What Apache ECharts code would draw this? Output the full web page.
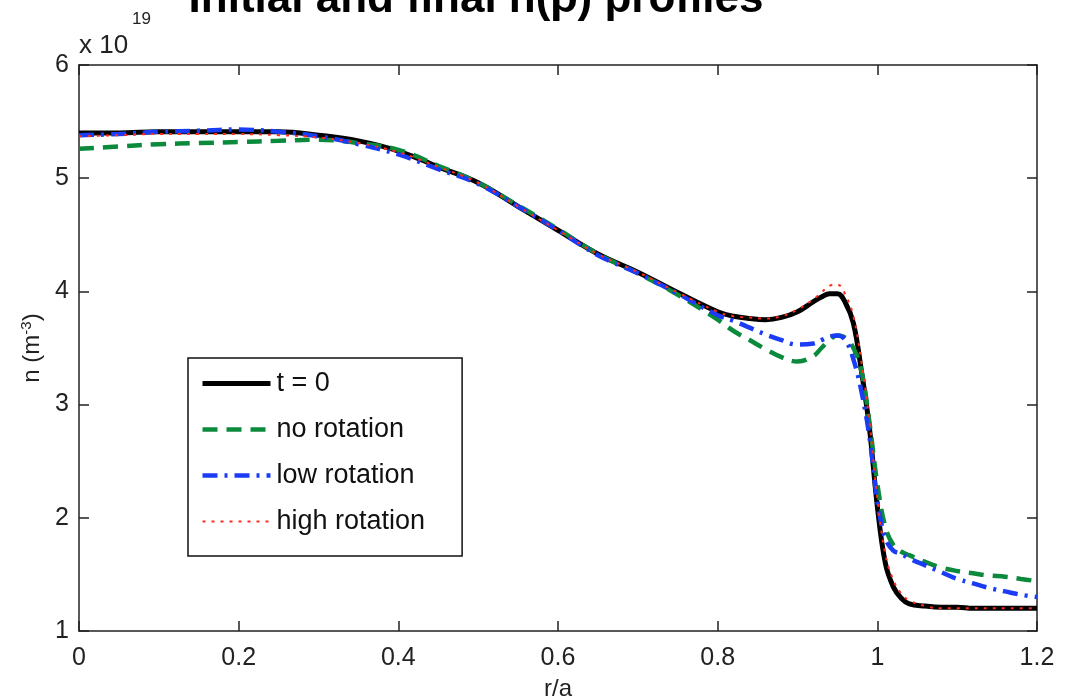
<!DOCTYPE html>
<html>
<head>
<meta charset="utf-8">
<script src="https://cdn.jsdelivr.net/npm/echarts@6/dist/echarts.min.js"></script>
<style>
html,body{margin:0;padding:0;background:#fff;}
#chart{width:1067px;height:700px;}
</style>
</head>
<body>
<div id="chart"></div>
<script>
// r/a sample positions
const rVals = [0, 0.05, 0.1, 0.15, 0.2, 0.25, 0.3, 0.35, 0.4, 0.45, 0.5, 0.55, 0.6, 0.65, 0.7, 0.75, 0.8, 0.82, 0.84, 0.86, 0.88, 0.9, 0.92, 0.93, 0.94, 0.95, 0.96, 0.97, 0.98, 0.99, 1.0, 1.01, 1.02, 1.03, 1.04, 1.06, 1.08, 1.1, 1.12, 1.14, 1.16, 1.18, 1.2];
// density (x 10^19 m^-3)
const t0 = [5.40, 5.40, 5.41, 5.41, 5.41, 5.41, 5.38, 5.33, 5.24, 5.10, 4.96, 4.75, 4.54, 4.33, 4.17, 3.99, 3.82, 3.78, 3.76, 3.75, 3.77, 3.82, 3.91, 3.95, 3.98, 3.98, 3.90, 3.72, 3.30, 2.80, 2.10, 1.60, 1.39, 1.29, 1.24, 1.22, 1.21, 1.21, 1.20, 1.20, 1.20, 1.20, 1.20];
const noRot = [5.26, 5.28, 5.30, 5.31, 5.32, 5.33, 5.34, 5.31, 5.25, 5.11, 4.96, 4.76, 4.55, 4.33, 4.16, 3.97, 3.75, 3.65, 3.57, 3.49, 3.42, 3.38, 3.43, 3.50, 3.57, 3.61, 3.59, 3.50, 3.30, 2.85, 2.30, 1.92, 1.76, 1.70, 1.67, 1.61, 1.56, 1.53, 1.51, 1.49, 1.48, 1.46, 1.44];
const lowRot = [5.38, 5.39, 5.41, 5.42, 5.43, 5.41, 5.37, 5.30, 5.21, 5.08, 4.95, 4.75, 4.54, 4.32, 4.16, 3.98, 3.79, 3.74, 3.68, 3.62, 3.57, 3.53, 3.54, 3.57, 3.60, 3.61, 3.57, 3.40, 3.12, 2.72, 2.15, 1.82, 1.71, 1.68, 1.64, 1.58, 1.52, 1.46, 1.42, 1.38, 1.35, 1.32, 1.30];
const highRot = [5.37, 5.38, 5.39, 5.39, 5.39, 5.38, 5.36, 5.31, 5.23, 5.10, 4.96, 4.75, 4.54, 4.33, 4.17, 3.99, 3.82, 3.78, 3.77, 3.76, 3.78, 3.84, 3.93, 3.99, 4.05, 4.06, 3.97, 3.78, 3.38, 2.86, 2.17, 1.68, 1.45, 1.33, 1.27, 1.22, 1.20, 1.20, 1.20, 1.20, 1.20, 1.20, 1.20];
const seriesNames = ['t = 0', 'no rotation', 'low rotation', 'high rotation'];
const xTicks = [0, 0.2, 0.4, 0.6, 0.8, 1, 1.2];
const yTicks = [1, 2, 3, 4, 5, 6];

function pairs(vals) { return rVals.map((r, i) => [r, vals[i]]); }

const FONT = '"Liberation Sans", Arial, sans-serif';
const axisCol = '#222';
const colors = ['#000000', '#0b8a3c', '#1a3cf5', '#ff2a1a'];
const widths = [5, 4.5, 4.5, 2];
const dashes = ['solid', [15, 9], [15, 7, 3, 7], [3, 6]];

const chart = echarts.init(document.getElementById('chart'), null, {renderer: 'canvas'});

const baseX = {
  type: 'value', min: xTicks[0], max: xTicks[xTicks.length - 1], interval: 0.2,
  axisLine: {show: true, onZero: false, lineStyle: {color: axisCol, width: 1.5}},
  axisTick: {show: true, inside: true, length: 10, lineStyle: {color: axisCol, width: 1.5}},
  splitLine: {show: false}
};
const baseY = {
  type: 'value', min: yTicks[0], max: yTicks[yTicks.length - 1], interval: 1,
  axisLine: {show: true, onZero: false, lineStyle: {color: axisCol, width: 1.5}},
  axisTick: {show: true, inside: true, length: 10, lineStyle: {color: axisCol, width: 1.5}},
  splitLine: {show: false}
};

const option = {
  backgroundColor: '#fff',
  animation: false,
  title: {
    text: 'Initial and final n(\u03c1) profiles',
    left: 471, top: -27, textAlign: 'center',
    textStyle: {fontFamily: FONT, fontWeight: 'bold', fontSize: 44, color: '#000'}
  },
  grid: {left: 79, right: 30, top: 65, bottom: 69, containLabel: false, outerBoundsMode: 'none'},
  xAxis: [
    Object.assign({}, baseX, {
      position: 'bottom',
      name: 'r/a', nameLocation: 'middle', nameGap: 46,
      nameTextStyle: {fontFamily: FONT, fontSize: 24, color: '#222'},
      axisLabel: {show: true, margin: 15, fontFamily: FONT, fontSize: 25, color: '#222',
        formatter: v => String(+v.toFixed(1))}
    }),
    Object.assign({}, baseX, {position: 'top', axisLabel: {show: false}})
  ],
  yAxis: [
    Object.assign({}, baseY, {
      position: 'left',
      name: 'n (m{sup|-3})', nameLocation: 'middle', nameGap: 28, nameRotate: 90,
      nameTextStyle: {fontFamily: FONT, fontSize: 24, color: '#222',
        rich: {sup: {fontFamily: FONT, fontSize: 15, verticalAlign: 'top', padding: [0, 0, 10, 0], color: '#222'}}},
      axisLabel: {show: true, margin: 10, fontFamily: FONT, fontSize: 25, color: '#222'}
    }),
    Object.assign({}, baseY, {position: 'right', axisLabel: {show: false}})
  ],
  legend: {
    show: true,
    orient: 'vertical', left: 188, top: 358,
    padding: [12, 37, 21, 12],
    itemGap: 19, itemWidth: 68, itemHeight: 14,
    backgroundColor: '#fff',
    borderColor: '#111', borderWidth: 1.5, borderRadius: 0,
    itemStyle: {opacity: 0},
    textStyle: {fontFamily: FONT, fontSize: 27, lineHeight: 27, color: '#111', padding: [0, 0, 0, 1]},
    data: seriesNames.map((n, i) => ({name: n, lineStyle: {width: widths[i], color: colors[i], type: dashes[i]}}))
  },
  graphic: [
    {type: 'text', left: 79, top: 33, style: {text: 'x 10', font: '26px ' + FONT, fill: '#222'}},
    {type: 'text', left: 132, top: 11, style: {text: '19', font: '17px ' + FONT, fill: '#222'}}
  ],
  series: seriesNames.map((n, i) => ({
    name: n, type: 'line', data: pairs([t0, noRot, lowRot, highRot][i]),
    showSymbol: false, symbol: 'none', smooth: 0.4,
    lineStyle: {color: colors[i], width: widths[i], type: dashes[i]},
    itemStyle: {color: colors[i]}
  }))
};
chart.setOption(option);
</script>
</body>
</html>
